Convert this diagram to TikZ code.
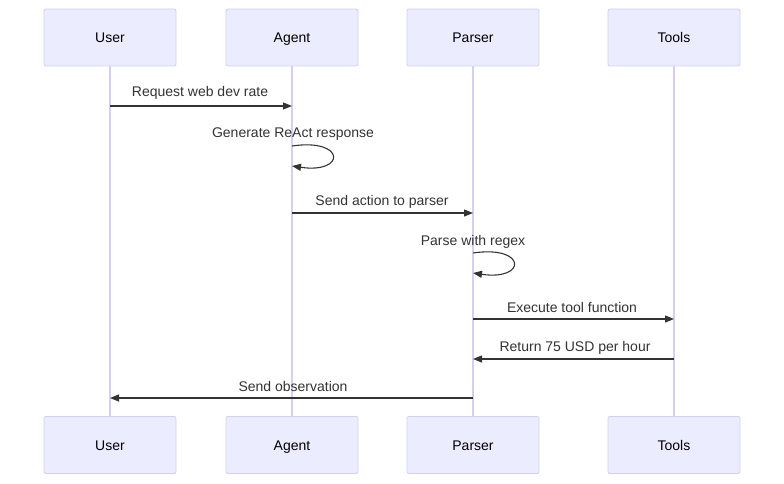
\documentclass[tikz,border=0pt]{standalone}
\usepackage{fontspec}
\setmainfont{Liberation Sans}
\usetikzlibrary{arrows.meta}

\definecolor{actorfill}{HTML}{ECECFF}
\definecolor{actorline}{HTML}{D4D0F5}
\definecolor{msgtext}{HTML}{333333}

\tikzset{
  actor/.style={draw=actorline, fill=actorfill, line width=0.9pt, rounded corners=2pt,
    minimum width=132pt, minimum height=57pt, inner sep=0pt, text=black,
    text height=10pt, text depth=0pt, font=\fontsize{14}{16}\selectfont},
  lifeline/.style={draw=actorline, line width=1.5pt},
  msg/.style={draw=msgtext, line width=1.1pt, -{Triangle[length=9pt,width=7pt]}},
  msglabel/.style={text=msgtext, font=\fontsize{14}{16}\selectfont, inner sep=0pt,
    text height=10pt, text depth=0pt}
}

\begin{document}
\begin{tikzpicture}[x=1pt,y=-1pt]
        \useasboundingbox (0,0) rectangle (784,484);
        \fill[white] (0,0) rectangle (784,484);
        % Actors, top row
        \node[actor] (userT) at (110,37.5) {User};
        \node[actor] (agentT) at (292,37.5) {Agent};
        \node[actor] (parserT) at (473,37.5) {Parser};
        \node[actor] (toolsT) at (674,37.5) {Tools};
        % Actors, bottom row
        \node[actor] (userB) at (110,445) {User};
        \node[actor] (agentB) at (292,445) {Agent};
        \node[actor] (parserB) at (473,445) {Parser};
        \node[actor] (toolsB) at (674,445) {Tools};
        % Lifelines
        \draw[lifeline] (userT) -- (userB);
        \draw[lifeline] (agentT) -- (agentB);
        \draw[lifeline] (parserT) -- (parserB);
        \draw[lifeline] (toolsT) -- (toolsB);
        % Message end points
        \coordinate (u1) at (110,106);  \coordinate (a1) at (292,106);
        \coordinate (a2) at (292,146);  \coordinate (a3) at (292,166);
        \coordinate (a4) at (292,213);  \coordinate (p4) at (473,213);
        \coordinate (p5) at (473,253);  \coordinate (p6) at (473,273);
        \coordinate (p7) at (473,319);  \coordinate (t7) at (674,319);
        \coordinate (t8) at (674,359);  \coordinate (p8) at (473,359);
        \coordinate (p9) at (473,398);  \coordinate (u9) at (110,398);
        % Messages
        \draw[msg] (u1) -- (a1);
        \node[msglabel] (m1) at (200,92) {Request web dev rate};
        \draw[msg] (a2) .. controls (346,138) and (346,174) .. (a3);
        \node[msglabel] (m2) at (293,133) {Generate ReAct response};
        \draw[msg] (a4) -- (p4);
        \node[msglabel] (m3) at (382,200) {Send action to parser};
        \draw[msg] (p5) .. controls (527,245) and (527,281) .. (p6);
        \node[msglabel] (m4) at (473,240) {Parse with regex};
        \draw[msg] (p7) -- (t7);
        \node[msglabel] (m5) at (572,307) {Execute tool function};
        \draw[msg] (t8) -- (p8);
        \node[msglabel] (m6) at (575,346) {Return 75 USD per hour};
        \draw[msg] (p9) -- (u9);
        \node[msglabel] (m7) at (293,386) {Send observation};
\end{tikzpicture}
\end{document}
